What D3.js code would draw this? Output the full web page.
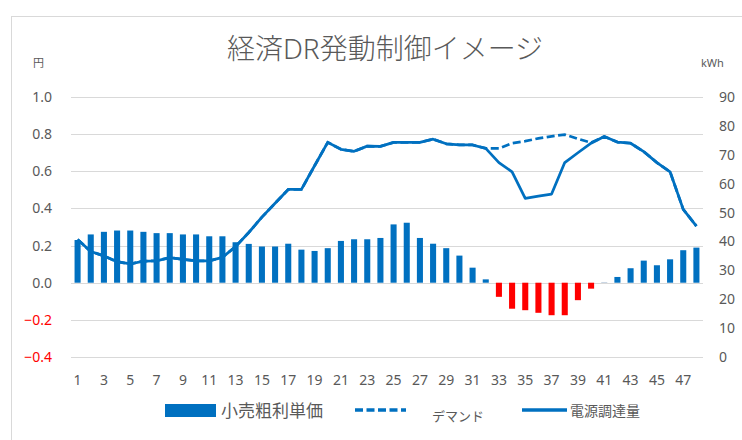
<!DOCTYPE html>
<html>
<head>
<meta charset="utf-8">
<script src="https://cdn.jsdelivr.net/npm/d3@7"></script>
<style>
  body { margin: 0; background: #fff; }
  text { font-family: "Noto Sans", "Noto Sans CJK JP", sans-serif; }
</style>
</head>
<body>
<div id="chart"></div>
<script>
// data
const slots = d3.range(1, 49);
const margin = [0.23, 0.26, 0.274, 0.281, 0.281, 0.274, 0.267, 0.267, 0.26, 0.26,
  0.25, 0.25, 0.218, 0.209, 0.195, 0.195, 0.21, 0.178, 0.171, 0.186,
  0.225, 0.234, 0.234, 0.241, 0.314, 0.323, 0.241, 0.21, 0.186, 0.146,
  0.081, 0.018, -0.076, -0.14, -0.148, -0.162, -0.175, -0.175, -0.094, -0.032,
  0.004, 0.031, 0.078, 0.119, 0.094, 0.126, 0.175, 0.189];
const supply = [40.7, 36.5, 35.0, 33.0, 32.2, 33.2, 33.3, 34.4, 33.8, 33.3,
  33.3, 34.5, 38.2, 43.1, 48.4, 53.2, 58.0, 58.0, 66.2, 74.3,
  71.9, 71.2, 73.0, 72.9, 74.3, 74.3, 74.3, 75.4, 73.8, 73.4,
  73.4, 72.2, 67.3, 64.1, 54.9, 55.7, 56.4, 67.3, 70.7, 74.0,
  76.3, 74.4, 74.0, 71.1, 67.3, 64.1, 51.1, 45.3];
const demand = [40.7, 36.5, 35.0, 33.0, 32.2, 33.2, 33.3, 34.4, 33.8, 33.3,
  33.3, 34.5, 38.2, 43.1, 48.4, 53.2, 58.0, 58.0, 66.2, 74.3,
  71.9, 71.2, 73.0, 72.9, 74.3, 74.3, 74.3, 75.4, 73.8, 73.4,
  73.4, 72.2, 72.2, 74.0, 74.7, 75.7, 76.4, 77.0, 75.5, 74.2,
  76.3, 74.4, 74.0, 71.1, 67.3, 64.1, 51.1, 45.3];
const leftTicks = [-0.4, -0.2, 0, 0.2, 0.4, 0.6, 0.8, 1.0];
const rightTicks = [0, 10, 20, 30, 40, 50, 60, 70, 80, 90];

const width = 742, height = 440;
const blue = "#0070C0", red = "#FF0000", grey = "#595959";

const svg = d3.select("#chart").append("svg")
  .attr("width", width)
  .attr("height", height);

// chart frame
svg.append("rect")
  .attr("x", 11.5).attr("y", 16.5)
  .attr("width", 760).attr("height", 460)
  .attr("fill", "none")
  .attr("stroke", "#d9d9d9");

const x = d3.scaleBand().domain(slots).range([71, 703]).paddingInner(0.54).paddingOuter(0.27);
const yL = d3.scaleLinear().domain([-0.4, 1.0]).range([357, 97]);
const yR = d3.scaleLinear().domain([0, 90]).range([357, 97]);

// title
svg.append("text")
  .attr("x", 385).attr("y", 59)
  .attr("text-anchor", "middle")
  .style("font-size", "28px")
  .style("font-weight", 300)
  .style("fill", grey)
  .text("経済DR発動制御イメージ");

svg.append("text").attr("x", 33).attr("y", 67)
  .style("font-size", "11px").style("fill", grey).text("円");
svg.append("text").attr("x", 701).attr("y", 67)
  .style("font-size", "11px").style("fill", grey).text("kWh");

// gridlines
svg.append("g")
  .selectAll("line")
  .data(leftTicks)
  .join("line")
  .attr("x1", 71).attr("x2", 703)
  .attr("y1", d => Math.round(yL(d)) + 0.5)
  .attr("y2", d => Math.round(yL(d)) + 0.5)
  .attr("stroke", "#d9d9d9")
  .attr("stroke-width", 1);

// left axis
const axisL = svg.append("g")
  .attr("transform", "translate(71,0)")
  .call(d3.axisLeft(yL).tickValues(leftTicks).tickFormat(d3.format(".1f")).tickSize(0).tickPadding(19));
axisL.select(".domain").remove();
axisL.selectAll("text")
  .style("font-size", "14px")
  .style("font-family", "'Noto Sans', sans-serif")
  .style("fill", d => d < 0 ? red : grey);

// right axis
const axisR = svg.append("g")
  .attr("transform", "translate(703,0)")
  .call(d3.axisRight(yR).tickValues(rightTicks).tickSize(0).tickPadding(16));
axisR.select(".domain").remove();
axisR.selectAll("text")
  .style("font-size", "14px")
  .style("font-family", "'Noto Sans', sans-serif")
  .style("fill", grey);

// x axis
const axisX = svg.append("g")
  .attr("transform", "translate(0,372)")
  .call(d3.axisBottom(x).tickValues(slots.filter(d => d % 2 === 1)).tickSize(0).tickPadding(3));
axisX.select(".domain").remove();
axisX.selectAll("text")
  .style("font-size", "14px")
  .style("font-family", "'Noto Sans', sans-serif")
  .style("fill", grey);

// bars
svg.append("g")
  .selectAll("rect")
  .data(margin)
  .join("rect")
  .attr("x", (d, i) => x(slots[i]))
  .attr("width", x.bandwidth())
  .attr("y", d => yL(Math.max(0, d)))
  .attr("height", d => Math.max(1, Math.abs(yL(d) - yL(0))))
  .attr("fill", d => Math.abs(d) < 0.01 ? "#c9d6e3" : (d < 0 ? red : blue));

// lines
const lineR = d3.line()
  .x((d, i) => x(slots[i]) + x.bandwidth() / 2)
  .y(d => yR(d));

svg.append("path")
  .datum(demand)
  .attr("d", lineR)
  .attr("fill", "none")
  .attr("stroke", blue)
  .attr("stroke-width", 2.75)
  .attr("stroke-dasharray", "8,3.5");

svg.append("path")
  .datum(supply)
  .attr("d", lineR)
  .attr("fill", "none")
  .attr("stroke", blue)
  .attr("stroke-width", 2.75)
  .attr("stroke-linejoin", "round");

// legend
const legend = svg.append("g");
legend.append("rect")
  .attr("x", 165).attr("y", 404).attr("width", 51).attr("height", 13)
  .attr("fill", blue);
legend.append("text")
  .attr("x", 221).attr("y", 417)
  .style("font-size", "17px").style("fill", grey)
  .text("小売粗利単価");
legend.append("line")
  .attr("x1", 355).attr("x2", 406).attr("y1", 410).attr("y2", 410)
  .attr("stroke", blue).attr("stroke-width", 3.5)
  .attr("stroke-dasharray", "8,3.5");
legend.append("text")
  .attr("x", 432).attr("y", 421)
  .style("font-size", "13px").style("fill", grey)
  .text("デマンド");
legend.append("line")
  .attr("x1", 522).attr("x2", 567).attr("y1", 410).attr("y2", 410)
  .attr("stroke", blue).attr("stroke-width", 3.5);
legend.append("text")
  .attr("x", 570).attr("y", 416)
  .style("font-size", "14px").style("fill", grey)
  .text("電源調達量");
</script>
</body>
</html>
